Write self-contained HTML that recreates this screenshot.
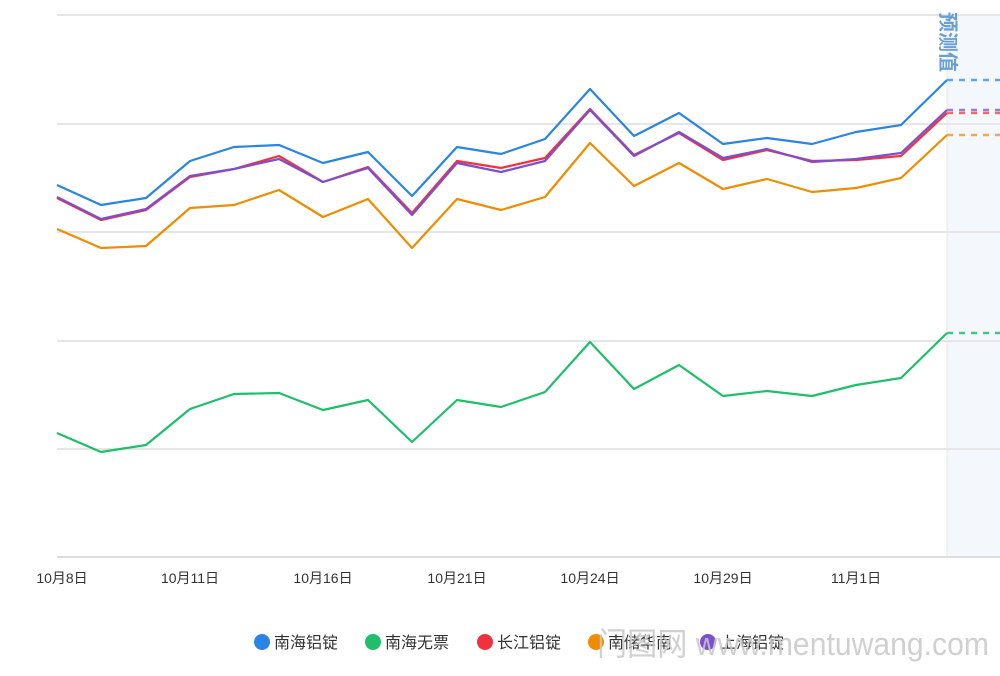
<!DOCTYPE html>
<html><head><meta charset="utf-8"><style>
body{margin:0;background:#fff;width:1000px;height:671px;overflow:hidden;font-family:"Liberation Sans","Noto Sans CJK SC",sans-serif}
</style></head><body>
<svg width="1000" height="671" xmlns="http://www.w3.org/2000/svg" font-family="Liberation Sans, Noto Sans CJK SC, sans-serif">
<rect x="947" y="15" width="53" height="542" fill="#f4f7fb"/>
<g stroke="#e6e6e6" stroke-width="2">
<line x1="57" y1="15" x2="1000" y2="15"/><line x1="57" y1="124" x2="1000" y2="124"/>
<line x1="57" y1="232" x2="1000" y2="232"/><line x1="57" y1="341" x2="1000" y2="341"/>
<line x1="57" y1="449" x2="1000" y2="449"/><line x1="57" y1="557" x2="1000" y2="557" stroke="#ddd"/>
</g>
<line x1="947" y1="15" x2="947" y2="557" stroke="#e3e8ee" stroke-width="1"/>
<g fill="none" stroke-width="2.2" stroke-linejoin="round">
<polyline stroke="#f08c00" points="57,229 101,248 146,246 190,208 234,205 279,190 323,217 368,199 412,248 457,199 501,210 545,197 590,143 634,186 679,163 723,189 767,179 812,192 856,188 901,178 947,135"/>
<polyline stroke="#f0323c" points="57,198 101,220 146,210 190,177 234,169 279,156 323,182 368,167 412,213 457,161 501,168 545,158 590,109 634,155 679,133 723,160 767,150 812,161 856,160 901,156 947,113"/>
<polyline stroke="#7b4fd0" points="57,197 101,219 146,209 190,176 234,169 279,159 323,182 368,168 412,215 457,163 501,172 545,161 590,110 634,156 679,132 723,158 767,149 812,162 856,159 901,153 947,110"/>
<polyline stroke="#2a84e6" points="57,185 101,205 146,198 190,161 234,147 279,145 323,163 368,152 412,196 457,147 501,154 545,139 590,89 634,136 679,113 723,144 767,138 812,144 856,132 901,125 947,80"/>
<polyline stroke="#1fbf6a" points="57,433 101,452 146,445 190,409 234,394 279,393 323,410 368,400 412,442 457,400 501,407 545,392 590,342 634,389 679,365 723,396 767,391 812,396 856,385 901,378 947,333"/>
</g>
<g stroke-width="2.5" stroke-dasharray="6,6">
<line x1="947" y1="80" x2="1000" y2="80" stroke="#5ea6ee"/>
<line x1="947" y1="110" x2="1000" y2="110" stroke="#9b7ad8"/>
<line x1="947" y1="113" x2="1000" y2="113" stroke="#f06a70"/>
<line x1="947" y1="135" x2="1000" y2="135" stroke="#f0a850"/>
<line x1="947" y1="333" x2="1000" y2="333" stroke="#40c880"/>
</g>
<text transform="translate(941,12) rotate(90)" font-size="20" fill="#6a9fd6" font-weight="bold">预测值</text>
<g font-size="14" fill="#333" text-anchor="middle">
<text x="62" y="583">10月8日</text><text x="190" y="583">10月11日</text>
<text x="323" y="583">10月16日</text><text x="457" y="583">10月21日</text>
<text x="590" y="583">10月24日</text><text x="723" y="583">10月29日</text>
<text x="856" y="583">11月1日</text>
</g>
<g font-size="16" fill="#333">
<circle cx="262" cy="642" r="8" fill="#2a84e6"/><text x="274" y="648">南海铝锭</text>
<circle cx="373" cy="642" r="8" fill="#1fbf6a"/><text x="385" y="648">南海无票</text>
<circle cx="485" cy="642" r="8" fill="#f0323c"/><text x="497" y="648">长江铝锭</text>
<circle cx="596" cy="642" r="8" fill="#f08c00"/><text x="608" y="648">南储华南</text>
<circle cx="708" cy="642" r="8" fill="#7b4fd0"/><text x="720" y="648">上海铝锭</text>
</g>
<text x="597" y="655" font-size="32" fill="#c8c8c8" textLength="392" lengthAdjust="spacingAndGlyphs" opacity="0.85">门图网 www.mentuwang.com</text>
</svg>
</body></html>
